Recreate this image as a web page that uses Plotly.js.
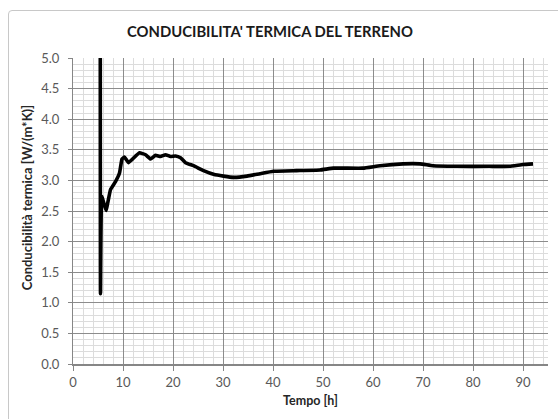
<!DOCTYPE html>
<html>
<head>
<meta charset="utf-8">
<script src="https://cdn.plot.ly/plotly-3.0.1.min.js"></script>
<style>
  html, body { margin: 0; padding: 0; background: #ffffff; }
  #wrap { position: relative; width: 558px; height: 419px; overflow: hidden; }
  #frame { position: absolute; left: 8px; top: 10px; width: 600px; height: 460px; border: 1px solid #c8c8c8; border-radius: 4px; box-sizing: border-box; }
  #chart { position: absolute; left: 0; top: 0; width: 558px; height: 419px; }
</style>
</head>
<body>
<div id="wrap">
  <div id="frame"></div>
  <div id="chart"></div>
</div>
<script>
// Time [h]
const tempo = [5.45, 5.5, 5.75, 6.6, 7.5, 8.5, 9.3, 9.8, 10.3, 11.1, 11.8, 13.3, 14.5, 15.5, 16.5, 17.5, 18.5, 19.5, 20.5, 21.5, 22.5, 24.1, 26.1, 28.1, 30.1, 32.1, 34.8, 37.4, 40.1, 44.7, 49.4, 52.1, 58.0, 61.4, 66.0, 69.4, 72.0, 76.7, 83.3, 87.3, 90.0, 92.0];
// Thermal conductivity [W/(m*K)]
const conducibilita = [7.0, 1.15, 2.74, 2.51, 2.85, 2.98, 3.12, 3.35, 3.38, 3.29, 3.34, 3.45, 3.42, 3.35, 3.41, 3.39, 3.42, 3.39, 3.40, 3.37, 3.29, 3.24, 3.16, 3.10, 3.07, 3.05, 3.07, 3.11, 3.15, 3.16, 3.17, 3.20, 3.20, 3.24, 3.27, 3.27, 3.24, 3.23, 3.23, 3.23, 3.26, 3.27];

const xTicks = [0, 10, 20, 30, 40, 50, 60, 70, 80, 90];
const yTicks = [0.0, 0.5, 1.0, 1.5, 2.0, 2.5, 3.0, 3.5, 4.0, 4.5, 5.0];

const titleText = "CONDUCIBILITA' TERMICA DEL TERRENO";
const xTitle = 'Tempo [h]';
const yTitle = 'Conducibilità termica [W/(m*K)]';

const font = "Lato, 'Open Sans', sans-serif";

const trace = {
  x: tempo,
  y: conducibilita,
  type: 'scatter',
  mode: 'lines',
  line: { color: '#000000', width: 3.6, shape: 'spline', smoothing: 0.3 },
  hoverinfo: 'skip'
};

const layout = {
  width: 558,
  height: 419,
  margin: { l: 72.5, r: 9.5, t: 58, b: 55 },
  paper_bgcolor: 'rgba(0,0,0,0)',
  plot_bgcolor: '#ffffff',
  showlegend: false,
  title: {
    text: '<b>' + titleText + '</b>',
    font: { family: font, size: 14.8, color: '#1a1a1a' },
    x: 270 / 558, xref: 'container', xanchor: 'center',
    y: 1 - 32 / 419, yref: 'container', yanchor: 'middle'
  },
  xaxis: {
    range: [0, 95],
    tickmode: 'array',
    tickvals: xTicks,
    ticktext: xTicks.map(String),
    showgrid: true,
    gridcolor: '#8c8c8c',
    gridwidth: 1,
    minor: { dtick: 2, showgrid: true, gridcolor: '#dcdcdc', gridwidth: 1, ticks: '' },
    showline: true,
    linecolor: '#868686',
    linewidth: 2,
    ticks: 'outside',
    ticklen: 5,
    tickcolor: '#868686',
    tickfont: { family: font, size: 13, color: '#595959' },
    zeroline: false
  },
  yaxis: {
    range: [0, 5],
    tickmode: 'array',
    tickvals: yTicks,
    ticktext: yTicks.map(v => v.toFixed(1)),
    showgrid: true,
    gridcolor: '#8c8c8c',
    gridwidth: 1,
    minor: { dtick: 0.1, showgrid: true, gridcolor: '#dcdcdc', gridwidth: 1, ticks: '' },
    showline: true,
    linecolor: '#868686',
    linewidth: 1,
    ticks: 'outside',
    ticklen: 4,
    ticklabelstandoff: 6,
    tickcolor: '#868686',
    tickfont: { family: font, size: 13, color: '#595959' },
    zeroline: false
  },
  annotations: [
    {
      text: '<b>' + xTitle + '</b>',
      xref: 'paper', yref: 'paper',
      x: 0.5, y: (364.3 - 401) / 306,
      xanchor: 'center', yanchor: 'middle',
      showarrow: false,
      font: { family: font, size: 12.5, color: '#262626' }
    },
    {
      text: '<b>' + yTitle + '</b>',
      xref: 'paper', yref: 'paper',
      x: (26 - 72.5) / 476, y: (364.3 - 198) / 306,
      xanchor: 'center', yanchor: 'middle',
      textangle: -90,
      showarrow: false,
      font: { family: font, size: 13, color: '#262626' }
    }
  ]
};

Plotly.newPlot('chart', [trace], layout, { displayModeBar: false, staticPlot: true });
</script>
</body>
</html>
